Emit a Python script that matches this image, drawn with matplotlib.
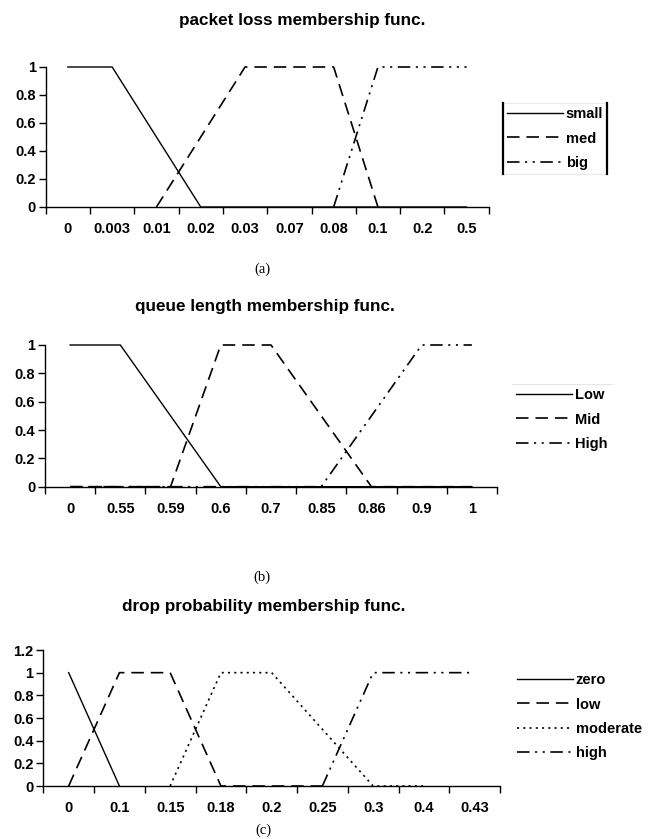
import numpy as np
import matplotlib.pyplot as plt
from matplotlib.lines import Line2D

plt.rcParams['font.family'] = ['Liberation Sans', 'DejaVu Sans']
plt.rcParams['lines.scale_dashes'] = False

nan = np.nan

# (a) packet loss
loss_cats = ['0', '0.003', '0.01', '0.02', '0.03', '0.07', '0.08', '0.1', '0.2', '0.5']
loss_small = [1, 1, 0.5, 0, 0, 0, 0, 0, 0, 0]
loss_med = [nan, nan, 0, 0.5, 1, 1, 1, 0, nan, nan]
loss_big = [nan, nan, nan, nan, nan, nan, 0, 1, 1, 1]

# (b) queue length
queue_cats = ['0', '0.55', '0.59', '0.6', '0.7', '0.85', '0.86', '0.9', '1']
queue_low = [1, 1, 0.5, 0, 0, 0, 0, 0, 0]
queue_mid = [0, 0, 0, 1, 1, 0.5, 0, 0, 0]
queue_high = [0, 0, 0, 0, 0, 0, 0.5, 1, 1]

# (c) drop probability
drop_cats = ['0', '0.1', '0.15', '0.18', '0.2', '0.25', '0.3', '0.4', '0.43']
drop_zero = [1, 0, nan, nan, nan, nan, nan, nan, nan]
drop_low = [0, 1, 1, 0, 0, 0, nan, nan, nan]
drop_moderate = [nan, nan, 0, 1, 1, 0.5, 0, 0, nan]
drop_high = [nan, nan, nan, nan, nan, 0, 1, 1, 1]

W, H = 650, 839
fig = plt.figure(figsize=(W / 100, H / 100), dpi=100)

FS = 10.5      # tick / legend text
TFS = 12.3     # titles

SOLID = dict(color='black', lw=1.0, ls='-')
DASH = dict(color='black', lw=1.2, dashes=(9, 5))
DASHDOT2 = dict(color='black', lw=1.2, dashes=(9, 4, 1.5, 4, 1.5, 4))
DOT = dict(color='black', lw=1.2, dashes=(1.5, 3))


def px_axes(left, top, right, bottom):
    return fig.add_axes([left / W, 1 - bottom / H, (right - left) / W, (bottom - top) / H])


def setup(ax, cats, ymax):
    n = len(cats)
    x = np.arange(n)
    ax.set_xlim(-0.5, n - 0.5)
    ax.set_ylim(0, ymax)
    ax.set_xticks(np.arange(n + 1) - 0.5)
    ax.set_xticklabels([])
    ax.set_xticks(x, minor=True)
    ax.set_xticklabels(cats, minor=True, fontweight='bold', fontsize=FS)
    ax.tick_params(axis='x', which='major', length=5, width=1, direction='out')
    ax.tick_params(axis='x', which='minor', length=0, pad=11)
    yt = np.round(np.arange(0, ymax + 0.01, 0.2), 1)
    ax.set_yticks(yt)
    ax.set_yticklabels(['%g' % v for v in yt], fontweight='bold', fontsize=FS)
    ax.tick_params(axis='y', length=5, width=1, direction='out', pad=2)
    for s in ['top', 'right']:
        ax.spines[s].set_visible(False)
    for s in ['left', 'bottom']:
        ax.spines[s].set_linewidth(1)
    ax.patch.set_alpha(0)
    return x


def put_legend(ax, x0, y0):
    leg = ax.legend(loc='upper left', bbox_to_anchor=(x0 / W, 1 - y0 / H),
                    bbox_transform=fig.transFigure, borderaxespad=0,
                    prop=dict(weight='bold', size=FS), handlelength=3.8,
                    handletextpad=0.2, labelspacing=0.7, borderpad=0.3,
                    fancybox=False, frameon=True)
    leg.get_frame().set_edgecolor('#e6e6e6')
    leg.get_frame().set_linewidth(0.8)
    return leg


# panel (a)
ax1 = px_axes(45.7, 67, 488.7, 207)
x = setup(ax1, loss_cats, 1)
ax1.plot(x, loss_small, label='small', clip_on=False, **SOLID)
ax1.plot(x, loss_med, label='med', clip_on=False, **DASH)
ax1.plot(x, loss_big, label='big', clip_on=False, **DASHDOT2)
leg1 = put_legend(ax1, 503, 103)
fig.text(302 / W, 1 - 21 / H, 'packet loss membership func.', ha='center', va='center',
         fontweight='bold', fontsize=TFS)
fig.text(262 / W, 1 - 269 / H, '(a)', ha='center', va='center',
         family='Liberation Serif', fontsize=10.5)

# panel (b)
ax2 = px_axes(45, 345, 497, 486.7)
x = setup(ax2, queue_cats, 1)
ax2.plot(x, queue_low, label='Low', clip_on=False, **SOLID)
ax2.plot(x, queue_mid, label='Mid', clip_on=False, **DASH)
ax2.plot(x, queue_high, label='High', clip_on=False, **DASHDOT2)
leg2 = put_legend(ax2, 512, 384)
leg2.get_frame().set_edgecolor('none')
fig.text(265 / W, 1 - 307 / H, 'queue length membership func.', ha='center', va='center',
         fontweight='bold', fontsize=TFS)
fig.text(262 / W, 1 - 577 / H, '(b)', ha='center', va='center',
         family='Liberation Serif', fontsize=10.5)

# panel (c)
ax3 = px_axes(43.3, 650, 500, 786)
x = setup(ax3, drop_cats, 1.2)
ax3.plot(x, drop_zero, label='zero', clip_on=False, **SOLID)
ax3.plot(x, drop_low, label='low', clip_on=False, **DASH)
ax3.plot(x, drop_moderate, label='moderate', clip_on=False, **DOT)
ax3.plot(x, drop_high, label='high', clip_on=False, **DASHDOT2)
leg3 = put_legend(ax3, 513, 669)
leg3.get_frame().set_edgecolor('none')
fig.text(264 / W, 1 - 607 / H, 'drop probability membership func.', ha='center', va='center',
         fontweight='bold', fontsize=TFS)
fig.text(263 / W, 1 - 830 / H, '(c)', ha='center', va='center',
         family='Liberation Serif', fontsize=10.5)

# black side bars on the first legend frame
fig.canvas.draw()
bb = leg1.get_window_extent().transformed(fig.transFigure.inverted())
for xx in (bb.x0, bb.x1):
    fig.add_artist(Line2D([xx, xx], [bb.y0, bb.y1], color='black', lw=1.6,
                          transform=fig.transFigure))
# thin grey line above the second legend
bb = leg2.get_window_extent().transformed(fig.transFigure.inverted())
fig.add_artist(Line2D([bb.x0, bb.x1], [bb.y1, bb.y1], color='#e6e6e6', lw=0.8,
                      transform=fig.transFigure))

fig.savefig('out.png', dpi=100)
